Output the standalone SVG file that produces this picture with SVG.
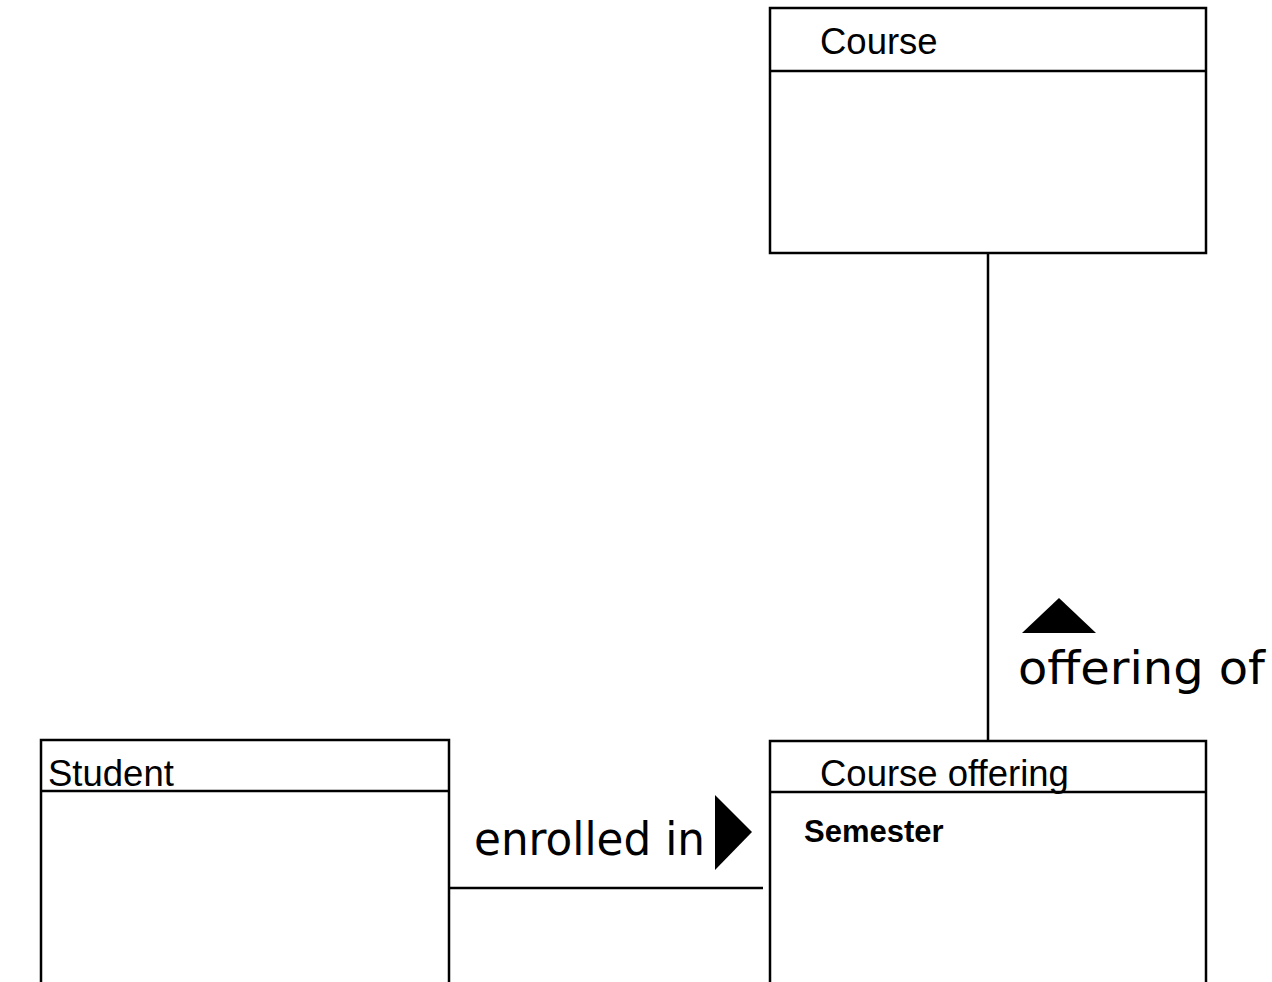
<svg xmlns="http://www.w3.org/2000/svg" width="1272" height="982" viewBox="0 0 1272 982">
<style>
.box{fill:#fff;stroke:#000;stroke-width:2.5}
.ln{stroke:#000;stroke-width:2.5;fill:none}
.nm{font-family:"Liberation Sans",Arial,sans-serif;font-size:36.5px;fill:#000}
.at{font-family:"Liberation Sans",Arial,sans-serif;font-size:31px;font-weight:bold;fill:#000}
.lb{font-family:"DejaVu Sans",sans-serif;font-size:46px;fill:#000}
</style>
<rect width="1272" height="982" fill="#fff"/>
<g id="connectors">
<line class="ln" x1="988" y1="253" x2="988" y2="741"/>
<line class="ln" x1="449" y1="888" x2="763" y2="888"/>
<polygon points="1022,633 1096,633 1059,598" fill="#000"/>
<text class="lb" x="1018" y="684" textLength="247" lengthAdjust="spacingAndGlyphs">offering of</text>
<polygon points="715,795 715,870 752,832" fill="#000"/>
<text class="lb" x="474" y="855" textLength="231" lengthAdjust="spacingAndGlyphs">enrolled in</text>
</g>
<g id="course">
<rect class="box" x="770" y="8" width="436" height="245"/>
<line class="ln" x1="770" y1="71" x2="1206" y2="71"/>
<text class="nm" x="820" y="54">Course</text>
</g>
<g id="course-offering">
<rect class="box" x="770" y="741" width="436" height="260"/>
<line class="ln" x1="770" y1="792" x2="1206" y2="792"/>
<text class="nm" x="820" y="786">Course offering</text>
<text class="at" x="804" y="842">Semester</text>
</g>
<g id="student">
<rect class="box" x="41" y="740" width="408" height="260"/>
<line class="ln" x1="41" y1="791" x2="449" y2="791"/>
<text class="nm" x="48" y="786">Student</text>
</g>
</svg>
